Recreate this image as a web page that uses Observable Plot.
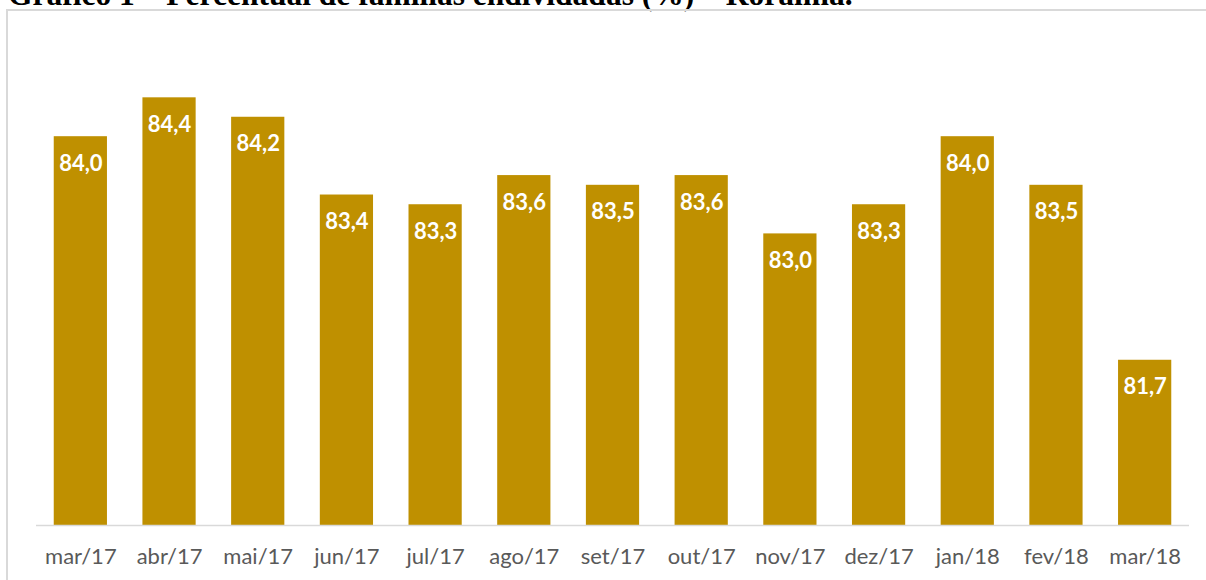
<!DOCTYPE html>
<html>
<head>
<meta charset="utf-8">
<script src="https://cdn.jsdelivr.net/npm/d3@7"></script>
<script src="https://cdn.jsdelivr.net/npm/@observablehq/plot@0.6"></script>
<style>
  html, body { margin: 0; padding: 0; background: #fff; overflow: hidden; }
  #wrap { position: relative; width: 1206px; height: 580px; overflow: hidden; }
  #title { position: absolute; left: 8px; top: -21px; font-family: "Liberation Serif", "Times New Roman", serif; font-weight: bold; font-size: 31.5px; color: #000; white-space: nowrap; line-height: 1; }
  #frame { position: absolute; left: 6px; top: 9px; width: 1210px; height: 600px; border: 2px solid #d9d9d9; box-sizing: border-box; }
  #chart { position: absolute; left: 0; top: 0; }
</style>
</head>
<body>
<div id="wrap">
  <div id="title">Gráfico 1 – Percentual de famílias endividadas (%) – Roraima.</div>
  <div id="frame"></div>
  <div id="chart"></div>
</div>
<script>
const months = ["mar/17","abr/17","mai/17","jun/17","jul/17","ago/17","set/17","out/17","nov/17","dez/17","jan/18","fev/18","mar/18"];
const values = [84.0, 84.4, 84.2, 83.4, 83.3, 83.6, 83.5, 83.6, 83.0, 83.3, 84.0, 83.5, 81.7];

const data = months.map((m, i) => ({month: m, value: values[i]}));
const fmt = v => v.toFixed(1).replace(".", ",");
const font = "Lato, 'Open Sans', sans-serif";

const chart = Plot.plot({
  width: 1206,
  height: 580,
  marginLeft: 36,
  marginRight: 17,
  marginTop: 39,
  marginBottom: 55,
  style: {background: "transparent", fontFamily: font},
  x: {domain: months, paddingInner: 0.4, paddingOuter: 0.2, round: false, label: null},
  y: {domain: [80, 85], axis: null},
  marks: [
    Plot.barY(data, {x: "month", y1: 80, y2: "value", fill: "#bf9000"}),
    Plot.ruleY([80], {stroke: "#d9d9d9", strokeWidth: 1.5}),
    Plot.text(data, {x: "month", y: "value", text: d => fmt(d.value), dy: 27, fill: "white", fontWeight: "bold", fontSize: 22, fontFamily: font}),
    Plot.axisX({tickSize: 0, tickPadding: 23, fontSize: 22, color: "#595959", label: null, fontFamily: font})
  ]
});
document.getElementById("chart").appendChild(chart);
</script>
</body>
</html>
